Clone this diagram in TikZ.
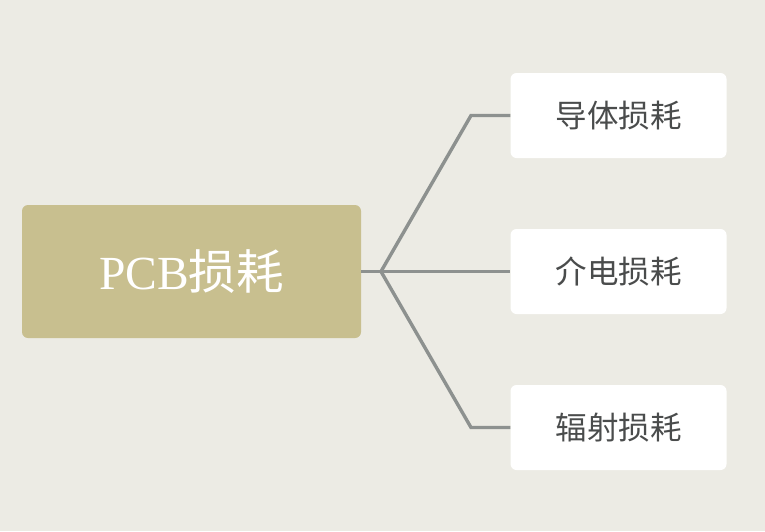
\documentclass[tikz,border=0pt]{standalone}
\usepackage{fontspec}
\setmainfont{Liberation Serif}
\newfontfamily\cjk{Noto Sans CJK SC}
\definecolor{bgcol}{HTML}{ECEBE4}
\definecolor{rootcol}{HTML}{C8BF8F}
\definecolor{linkcol}{HTML}{8D918F}
\definecolor{leaftext}{HTML}{4A4C4C}

\begin{document}
\begin{tikzpicture}[x=1pt,y=-1pt,
   root/.style={fill=rootcol,rounded corners=6pt,minimum width=339pt,minimum height=133pt,
      inner sep=0pt,text=white,font=\fontsize{47.5}{52}\selectfont},
   leaf/.style={fill=white,rounded corners=6pt,minimum width=216pt,minimum height=85pt,
      inner sep=0pt,text=leaftext,font=\cjk\fontsize{31.5}{36}\selectfont},
   link/.style={draw=linkcol,line width=3.4pt}]
\fill[bgcol] (0,0) rectangle (765,531);
\useasboundingbox (0,0) rectangle (765,531);
\node[root] (pcb) at (191.5,271.5) {PCB{\cjk 损耗}};
\node[leaf] (cond) at (618.5,115.5) {导体损耗};
\node[leaf] (diel) at (618.5,271.5) {介电损耗};
\node[leaf] (rad) at (618.5,427.5) {辐射损耗};
\coordinate (fork) at (381,271.5);
\coordinate (up) at (471,115.5);
\coordinate (down) at (471,427.5);
\draw[link] (pcb.east) -- (fork);
\draw[link] (fork) -- (up) -- (cond.west);
\draw[link] (fork) -- (diel.west);
\draw[link] (fork) -- (down) -- (rad.west);
\end{tikzpicture}
\end{document}
